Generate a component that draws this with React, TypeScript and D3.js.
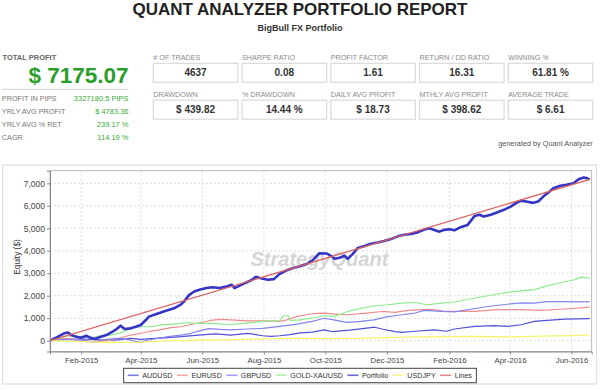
import React, { useEffect, useRef } from 'react';
import * as d3 from 'd3';

const SANS = '"Liberation Sans", Arial, sans-serif';

const reportTitle = 'QUANT ANALYZER PORTFOLIO REPORT';
const reportSubtitle = 'BigBull FX Portfolio';
const totalProfit = '$ 7175.07';

const summaryLabels = ['PROFIT IN PIPS', 'YRLY AVG PROFIT', 'YRLY AVG % RET', 'CAGR'];
const summaryValues = ['3327180.5 PIPS', '$ 4783.36', '239.17 %', '114.19 %'];

const statLabels = ['# OF TRADES', 'SHARPE RATIO', 'PROFIT FACTOR', 'RETURN / DD RATIO', 'WINNING %',
  'DRAWDOWN', '% DRAWDOWN', 'DAILY AVG PROFIT', 'MTHLY AVG PROFIT', 'AVERAGE TRADE'];
const statValues = ['4637', '0.08', '1.61', '16.31', '61.81 %',
  '$ 439.82', '14.44 %', '$ 18.73', '$ 398.62', '$ 6.61'];

const yTicks = [0, 1000, 2000, 3000, 4000, 5000, 6000, 7000];

const seriesNames = ['AUDUSD', 'EURUSD', 'GBPUSD', 'GOLD-XAUUSD', 'Portfolio', 'USDJPY', 'Lines'];
const seriesColors = ['#5050d8', '#f08c8c', '#8484f0', '#8eea8e', '#3434c6', '#f6f46c', '#dc6262'];
const seriesWidths = [1.2, 1.2, 1.2, 1.2, 2.6, 1.3, 1.3];

const audusd: [string, number][] = [
  ['2015-01-01', 0], ['2015-01-16', 60], ['2015-02-01', 75], ['2015-02-20', 40], ['2015-03-07', 30],
  ['2015-03-22', 100], ['2015-04-01', 60], ['2015-04-15', 100], ['2015-04-24', 130], ['2015-05-11', 180],
  ['2015-05-28', 250], ['2015-06-14', 300], ['2015-06-29', 250], ['2015-07-16', 330], ['2015-07-31', 220],
  ['2015-08-08', 190], ['2015-08-17', 220], ['2015-08-27', 270], ['2015-09-06', 350], ['2015-09-18', 380],
  ['2015-09-30', 480], ['2015-10-08', 400], ['2015-10-25', 470], ['2015-11-11', 560], ['2015-11-19', 600],
  ['2015-11-26', 520], ['2015-12-09', 400], ['2015-12-16', 370], ['2015-12-29', 420], ['2016-01-17', 480],
  ['2016-01-29', 420], ['2016-02-06', 520], ['2016-02-26', 640], ['2016-03-17', 670], ['2016-03-30', 640],
  ['2016-04-12', 710], ['2016-04-25', 860], ['2016-05-08', 900], ['2016-05-25', 960], ['2016-06-19', 980],
];

const eurusd: [string, number][] = [
  ['2015-01-01', 0], ['2015-01-16', 100], ['2015-02-01', 30], ['2015-02-11', -40], ['2015-02-20', -40],
  ['2015-03-02', 20], ['2015-03-12', 130], ['2015-03-22', 250], ['2015-04-01', 330], ['2015-04-08', 400],
  ['2015-04-18', 470], ['2015-05-01', 580], ['2015-05-11', 620], ['2015-05-21', 730], ['2015-05-31', 810],
  ['2015-06-09', 900], ['2015-06-19', 950], ['2015-06-29', 930], ['2015-07-16', 880], ['2015-07-31', 880],
  ['2015-08-17', 860], ['2015-08-24', 930], ['2015-09-03', 1080], ['2015-09-18', 1200], ['2015-09-30', 1230],
  ['2015-10-15', 1170], ['2015-10-23', 1155], ['2015-11-11', 1230], ['2015-11-26', 1300], ['2015-12-09', 1260],
  ['2015-12-22', 1350], ['2016-01-04', 1380], ['2016-01-17', 1380], ['2016-01-29', 1300], ['2016-02-26', 1300],
  ['2016-03-20', 1380], ['2016-04-12', 1380], ['2016-05-02', 1350], ['2016-05-25', 1410], ['2016-06-19', 1490],
];

const gbpusd: [string, number][] = [
  ['2015-01-01', 0], ['2015-01-16', 60], ['2015-02-01', 30], ['2015-02-14', -60], ['2015-02-20', 30],
  ['2015-03-07', 100], ['2015-03-17', 80], ['2015-03-25', -15], ['2015-04-01', -75], ['2015-04-08', 30],
  ['2015-04-18', 100], ['2015-04-28', 180], ['2015-05-11', 250], ['2015-05-21', 330], ['2015-05-31', 460],
  ['2015-06-07', 540], ['2015-06-19', 500], ['2015-06-29', 480], ['2015-07-16', 520], ['2015-07-31', 550],
  ['2015-08-17', 640], ['2015-09-03', 740], ['2015-09-18', 860], ['2015-09-30', 1000], ['2015-10-08', 940],
  ['2015-10-22', 815], ['2015-11-05', 860], ['2015-11-18', 930], ['2015-12-02', 1070], ['2015-12-16', 1155],
  ['2015-12-29', 1230], ['2016-01-07', 1350], ['2016-01-24', 1300], ['2016-02-06', 1280], ['2016-02-22', 1400],
  ['2016-03-10', 1520], ['2016-03-27', 1610], ['2016-04-12', 1680], ['2016-04-25', 1670], ['2016-05-08', 1740],
  ['2016-05-22', 1740], ['2016-06-19', 1730],
];

const gold: [string, number][] = [
  ['2015-01-01', 0], ['2015-01-09', 100], ['2015-01-19', 220], ['2015-02-01', 180], ['2015-02-11', 130],
  ['2015-02-20', 220], ['2015-03-02', 250], ['2015-03-12', 350], ['2015-03-22', 550], ['2015-04-01', 620],
  ['2015-04-11', 620], ['2015-04-21', 700], ['2015-05-01', 730], ['2015-05-11', 770], ['2015-05-18', 810],
  ['2015-05-25', 770], ['2015-06-12', 770], ['2015-06-28', 710], ['2015-07-15', 785], ['2015-07-31', 860],
  ['2015-08-17', 890], ['2015-08-20', 1110], ['2015-08-25', 1110], ['2015-08-27', 900], ['2015-09-06', 930],
  ['2015-09-18', 1000], ['2015-09-30', 1110], ['2015-10-10', 1080], ['2015-10-23', 1300], ['2015-11-06', 1450],
  ['2015-11-19', 1555], ['2015-12-02', 1600], ['2015-12-16', 1670], ['2015-12-29', 1700], ['2016-01-10', 1600],
  ['2016-01-24', 1670], ['2016-02-06', 1720], ['2016-02-26', 1900], ['2016-03-10', 2000], ['2016-03-30', 2150],
  ['2016-04-12', 2220], ['2016-04-25', 2270], ['2016-05-08', 2440], ['2016-05-22', 2590], ['2016-06-04', 2710],
  ['2016-06-11', 2830], ['2016-06-19', 2780],
];

const portfolio: [string, number][] = [
  ['2015-01-01', 0], ['2015-01-09', 180], ['2015-01-15', 330], ['2015-01-19', 360], ['2015-01-22', 250],
  ['2015-01-27', 180], ['2015-02-01', 130], ['2015-02-06', 220], ['2015-02-09', 150], ['2015-02-14', 75],
  ['2015-02-19', 150], ['2015-02-26', 250], ['2015-03-04', 400], ['2015-03-09', 550], ['2015-03-12', 670],
  ['2015-03-16', 520], ['2015-03-22', 550], ['2015-03-27', 620], ['2015-04-01', 700], ['2015-04-06', 920],
  ['2015-04-09', 1070], ['2015-04-18', 1210], ['2015-04-26', 1330], ['2015-05-04', 1440], ['2015-05-11', 1620],
  ['2015-05-14', 1750], ['2015-05-19', 2040], ['2015-05-24', 2190], ['2015-05-29', 2270], ['2015-06-05', 2340],
  ['2015-06-11', 2380], ['2015-06-18', 2340], ['2015-06-25', 2410], ['2015-06-30', 2490], ['2015-07-03', 2340],
  ['2015-07-08', 2450], ['2015-07-14', 2580], ['2015-07-20', 2700], ['2015-07-24', 2840], ['2015-07-29', 2780],
  ['2015-08-05', 2710], ['2015-08-11', 2740], ['2015-08-16', 2950], ['2015-08-23', 3120], ['2015-08-30', 3230],
  ['2015-09-05', 3300], ['2015-09-12', 3400], ['2015-09-18', 3560], ['2015-09-25', 3890], ['2015-10-02', 3880],
  ['2015-10-07', 3760], ['2015-10-10', 3640], ['2015-10-15', 3690], ['2015-10-20', 3780], ['2015-10-23', 3640],
  ['2015-10-28', 3850], ['2015-11-02', 4120], ['2015-11-09', 4210], ['2015-11-15', 4310], ['2015-11-22', 4370],
  ['2015-11-28', 4430], ['2015-12-05', 4520], ['2015-12-12', 4640], ['2015-12-18', 4710], ['2015-12-25', 4750],
  ['2015-12-31', 4810], ['2016-01-07', 4940], ['2016-01-12', 5000], ['2016-01-17', 4920], ['2016-01-22', 4850],
  ['2016-01-27', 4930], ['2016-02-01', 4960], ['2016-02-06', 4910], ['2016-02-12', 5050], ['2016-02-19', 5150],
  ['2016-02-26', 5550], ['2016-03-02', 5600], ['2016-03-06', 5520], ['2016-03-13', 5600], ['2016-03-19', 5700],
  ['2016-03-26', 5820], ['2016-04-02', 5970], ['2016-04-07', 6120], ['2016-04-12', 6230], ['2016-04-17', 6190],
  ['2016-04-24', 6130], ['2016-04-29', 6190], ['2016-05-04', 6410], ['2016-05-09', 6590], ['2016-05-14', 6780],
  ['2016-05-21', 6890], ['2016-05-27', 6930], ['2016-06-03', 7000], ['2016-06-08', 7180], ['2016-06-13', 7260],
  ['2016-06-16', 7230], ['2016-06-19', 7175],
];

const usdjpy: [string, number][] = [
  ['2015-01-01', 0], ['2015-02-01', -40], ['2015-03-01', -80], ['2015-04-01', -60], ['2015-05-01', 0],
  ['2015-06-01', 20], ['2015-07-01', 50], ['2015-08-01', 80], ['2015-09-01', 100], ['2015-10-01', 90],
  ['2015-11-01', 100], ['2015-12-01', 140], ['2016-01-01', 170], ['2016-02-01', 185], ['2016-03-01', 195],
  ['2016-04-01', 170], ['2016-05-01', 200], ['2016-06-01', 230], ['2016-06-19', 245],
];

const trendLine: [string, number][] = [['2015-01-01', 0], ['2016-06-19', 7175]];

const seriesData = [audusd, eurusd, gbpusd, gold, portfolio, usdjpy, trendLine];

const xStart = '2015-01-01';
const xEnd = '2016-06-21';

export default function App() {
  const ref = useRef<SVGSVGElement | null>(null);

  useEffect(() => {
    if (!ref.current) return;
    const svg = d3.select(ref.current);
    svg.selectAll('*').remove();
    const parse = d3.timeParse('%Y-%m-%d');

    // ---- header ----
    svg.append('text').attr('x', 300).attr('y', 14.5).attr('text-anchor', 'middle')
      .attr('font-family', SANS).attr('font-weight', 'bold').attr('font-size', 17).attr('fill', '#222')
      .text(reportTitle);
    svg.append('text').attr('x', 300).attr('y', 31).attr('text-anchor', 'middle')
      .attr('font-family', SANS).attr('font-weight', 'bold').attr('font-size', 9).attr('fill', '#333')
      .text(reportSubtitle);

    svg.append('text').attr('x', 2.5).attr('y', 60).attr('font-family', SANS).attr('font-weight', 'bold')
      .attr('font-size', 7.5).attr('fill', '#666').text('TOTAL PROFIT');
    svg.append('text').attr('x', 128.5).attr('y', 83).attr('text-anchor', 'end').attr('font-family', SANS)
      .attr('font-weight', 'bold').attr('font-size', 22.5).attr('fill', '#2a9d2a').text(totalProfit);
    svg.append('line').attr('x1', 2).attr('x2', 128.5).attr('y1', 89.3).attr('y2', 89.3)
      .attr('stroke', '#cfcfcf').attr('stroke-width', 1);

    summaryLabels.forEach((lab, i) => {
      const yy = 100.7 + i * 13.1;
      svg.append('text').attr('x', 1.8).attr('y', yy).attr('font-family', SANS).attr('font-size', 7.3)
        .attr('fill', '#777').text(lab);
      svg.append('text').attr('x', 128.5).attr('y', yy).attr('text-anchor', 'end').attr('font-family', SANS)
        .attr('font-size', 7.5).attr('fill', '#37a837').text(summaryValues[i]);
    });

    statLabels.forEach((lab, i) => {
      const col = i % 5;
      const row = Math.floor(i / 5);
      const bx = 153.3 + col * 88.75;
      const labelY = row === 0 ? 60 : 97.3;
      const boxY = row === 0 ? 63.3 : 100.2;
      svg.append('text').attr('x', bx).attr('y', labelY).attr('font-family', SANS).attr('font-size', 7.2)
        .attr('fill', '#8a8a8a').text(lab);
      svg.append('rect').attr('x', bx).attr('y', boxY).attr('width', 84.5).attr('height', 19)
        .attr('fill', '#fff').attr('stroke', '#dcdcdc').attr('stroke-width', 1.3);
      svg.append('text').attr('x', bx + 42.25).attr('y', boxY + 12.8).attr('text-anchor', 'middle')
        .attr('font-family', SANS).attr('font-weight', 'bold').attr('font-size', 10).attr('fill', '#333')
        .text(statValues[i]);
    });

    svg.append('text').attr('x', 592.7).attr('y', 146).attr('text-anchor', 'end').attr('font-family', SANS)
      .attr('font-size', 7.3).attr('fill', '#555').text('generated by Quant Analyzer');

    // ---- chart frame ----
    svg.append('rect').attr('x', 2.5).attr('y', 165).attr('width', 594).attr('height', 219)
      .attr('fill', '#fff').attr('stroke', '#dedede').attr('stroke-width', 1.2);

    const left = 50, right = 591.7, top = 170.7, bottom = 351.5;
    const x = d3.scaleTime()
      .domain([parse(xStart) as Date, parse(xEnd) as Date])
      .range([left, right]);
    const y = d3.scaleLinear().domain([-480, 7560]).range([bottom, top]);

    const xTicks = d3.timeMonth.range(new Date(2015, 1, 1), new Date(2016, 6, 1), 2);

    const grid = svg.append('g');
    yTicks.forEach(t => {
      grid.append('line').attr('x1', left).attr('x2', right).attr('y1', y(t)).attr('y2', y(t))
        .attr('stroke', '#d6d6d6').attr('stroke-width', 0.8).attr('stroke-dasharray', '2,2');
    });
    xTicks.forEach(t => {
      grid.append('line').attr('x1', x(t)).attr('x2', x(t)).attr('y1', top).attr('y2', bottom)
        .attr('stroke', '#d6d6d6').attr('stroke-width', 0.8).attr('stroke-dasharray', '2,2');
    });

    // watermark
    svg.append('text').attr('x', 250.5).attr('y', 266).attr('font-family', SANS).attr('font-weight', 'bold')
      .attr('font-style', 'italic').attr('font-size', 20).attr('fill', '#d6d6d6').text('StrategyQuant');

    const clip = svg.append('clipPath').attr('id', 'plotClip');
    clip.append('rect').attr('x', left).attr('y', top).attr('width', right - left).attr('height', bottom - top);

    const line = d3.line<[string, number]>()
      .x(d => x(parse(d[0]) as Date))
      .y(d => y(d[1]));

    const lines = svg.append('g').attr('clip-path', 'url(#plotClip)');
    seriesData.forEach((data, i) => {
      lines.append('path').datum(data).attr('d', line).attr('fill', 'none')
        .attr('stroke', seriesColors[i]).attr('stroke-width', seriesWidths[i])
        .attr('stroke-linejoin', 'round');
    });

    svg.append('rect').attr('x', left).attr('y', top).attr('width', right - left).attr('height', bottom - top)
      .attr('fill', 'none').attr('stroke', '#a8a8a8').attr('stroke-width', 0.8);

    // axes
    const yAxis = svg.append('g').attr('transform', `translate(${left},0)`)
      .call(d3.axisLeft(y).tickValues(yTicks).tickSize(3).tickPadding(2).tickFormat(d3.format(',')));
    yAxis.select('.domain').attr('stroke', '#888');
    yAxis.selectAll('line').attr('stroke', '#888');
    yAxis.selectAll('text').attr('font-family', SANS).attr('font-size', 8.5).attr('fill', '#444');

    const xAxis = svg.append('g').attr('transform', `translate(0,${bottom})`)
      .call(d3.axisBottom(x).tickValues(xTicks).tickSize(3).tickPadding(3)
        .tickFormat(d => d3.timeFormat('%b-%Y')(d as Date)));
    xAxis.select('.domain').attr('stroke', '#888');
    xAxis.selectAll('line').attr('stroke', '#888');
    xAxis.selectAll('text').attr('font-family', SANS).attr('font-size', 7.8).attr('fill', '#444');

    svg.append('text').attr('transform', 'translate(19.5,257) rotate(-90)').attr('text-anchor', 'middle')
      .attr('font-family', SANS).attr('font-size', 8.3).attr('fill', '#333').text('Equity ($)');

    // legend
    const legend = svg.append('g');
    const box = legend.append('rect').attr('y', 368.3).attr('height', 14.4).attr('fill', '#fff')
      .attr('stroke', '#444').attr('stroke-width', 1);
    let cx = 0;
    const items = legend.append('g');
    seriesNames.forEach((name, i) => {
      const g = items.append('g').attr('transform', `translate(${cx},0)`);
      g.append('line').attr('x1', 4).attr('x2', 15).attr('y1', 375.3).attr('y2', 375.3)
        .attr('stroke', seriesColors[i]).attr('stroke-width', 1.6).attr('opacity', 0.75);
      const t = g.append('text').attr('x', 18.5).attr('y', 378).attr('font-family', SANS)
        .attr('font-size', 7.2).attr('fill', '#333').text(name);
      const w = (t.node() as SVGTextElement).getComputedTextLength();
      cx += 18.5 + w + 0.5;
    });
    const totalW = cx + 4;
    const bx = 300 - totalW / 2;
    items.attr('transform', `translate(${bx},0)`);
    box.attr('x', bx).attr('width', totalW);
  }, []);

  return (
    <svg ref={ref} width={600} height={390}
      style={{ position: 'absolute', left: 0, top: 0, background: '#fff' }} />
  );
}
